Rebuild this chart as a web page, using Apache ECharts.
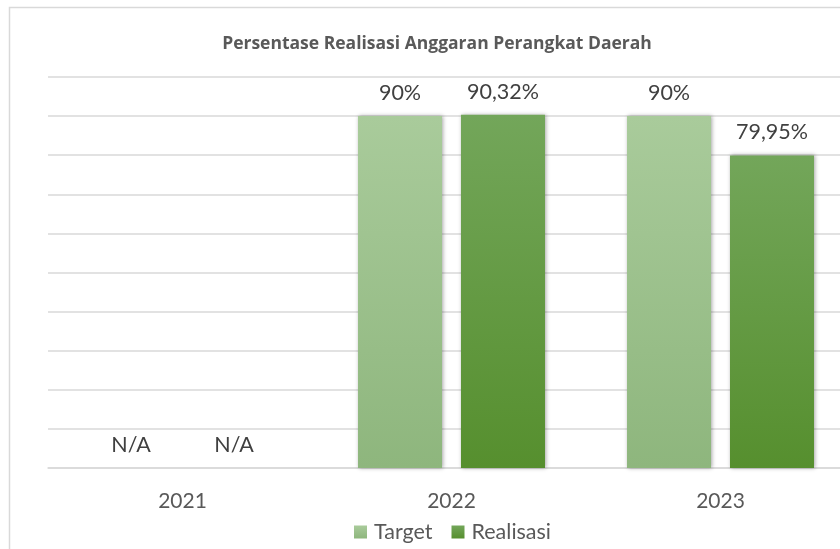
<!DOCTYPE html>
<html>
<head>
<meta charset="utf-8">
<script src="https://cdn.jsdelivr.net/npm/echarts@6/dist/echarts.min.js"></script>
<style>
  html, body { margin: 0; padding: 0; background: #fff; }
  #chart { width: 840px; height: 549px; }
</style>
</head>
<body>
<div id="chart"></div>
<script>
const years = ["2021", "2022", "2023"];
const target = [0, 90, 90];
const realisasi = [0, 90.32, 79.95];
const targetLabels = ["N/A", "90%", "90%"];
const realisasiLabels = ["N/A", "90,32%", "79,95%"];

const font = "Lato, 'Open Sans', sans-serif";
const chart = echarts.init(document.getElementById("chart"));

function grad(top, bottom) {
  return new echarts.graphic.LinearGradient(0, 0, 0, 1, [
    { offset: 0, color: top },
    { offset: 1, color: bottom },
  ]);
}

const barShadow = {
  shadowBlur: 4,
  shadowColor: "rgba(0,0,0,0.35)",
  shadowOffsetX: 1,
  shadowOffsetY: 0,
};

// the plot runs past the right edge of the picture
chart.setOption({
  animation: false,
  textStyle: { fontFamily: font },
  graphic: [
    {
      type: "rect",
      shape: { x: 9.5, y: 7.5, width: 900, height: 700 },
      style: { fill: "none", stroke: "#d9d9d9", lineWidth: 1.5 },
      silent: true,
    },
  ],
  title: {
    text: "Persentase Realisasi Anggaran Perangkat Daerah",
    left: 432,
    textAlign: "center",
    top: 30,
    textStyle: { fontSize: 17.5, fontWeight: "bold", color: "#595959", fontFamily: "'Open Sans', sans-serif" },
  },
  legend: {
    bottom: 1,
    left: 349,
    icon: "rect",
    itemWidth: 13,
    itemHeight: 13,
    itemGap: 19,
    textStyle: { fontSize: 21.5, color: "#595959", fontFamily: font, padding: [0, 0, 0, 2] },
    data: ["Target", "Realisasi"],
  },
  grid: { left: 48, top: 77, width: 807, bottom: 81, outerBoundsMode: "none", containLabel: false },
  xAxis: {
    type: "category",
    data: years,
    axisLine: { lineStyle: { color: "#d9d9d9", width: 1.5 } },
    axisTick: { show: false },
    axisLabel: { fontSize: 21, color: "#595959", margin: 23, fontFamily: font },
  },
  yAxis: {
    type: "value",
    min: 0,
    max: 100,
    interval: 10,
    axisLabel: { show: false },
    axisLine: { show: false },
    axisTick: { show: false },
    splitLine: { lineStyle: { color: "#d9d9d9", width: 1.5 } },
  },
  series: [
    {
      name: "Target",
      type: "bar",
      data: target,
      barWidth: 84,
      barGap: "22.6%",
      itemStyle: Object.assign({ color: grad("#a9cb9b", "#8eb67d") }, barShadow),
      label: {
        show: true,
        position: "top",
        distance: 12,
        fontSize: 21.5,
        color: "#404040",
        fontFamily: font,
        formatter: (p) => targetLabels[p.dataIndex],
      },
    },
    {
      name: "Realisasi",
      type: "bar",
      data: realisasi,
      barWidth: 84,
      itemStyle: Object.assign({ color: grad("#73a65a", "#568f2e") }, barShadow),
      label: {
        show: true,
        position: "top",
        distance: 12,
        fontSize: 21.5,
        color: "#404040",
        fontFamily: font,
        formatter: (p) => realisasiLabels[p.dataIndex],
      },
    },
  ],
});
</script>
</body>
</html>
